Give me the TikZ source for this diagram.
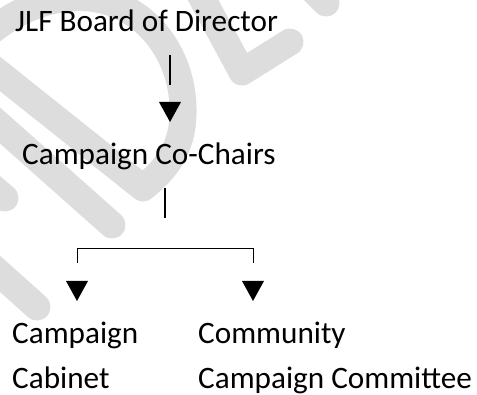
\documentclass[tikz,border=0pt]{standalone}
\usepackage{fontspec}
\setmainfont{Carlito}
\definecolor{wmgray}{RGB}{221,221,221}
\begin{document}
\begin{tikzpicture}[x=1pt,y=-1pt,
  lbl/.style={anchor=base west,inner sep=0pt,font=\fontsize{31.2}{37}\selectfont},
  wm/.style={draw=wmgray,line width=27pt,line cap=round,line join=round},
  bar/.style={line width=1.6pt},
  bracket/.style={line width=1pt},
  downtri/.pic={\fill (0,0) -- (-11,-20) -- (11,-20) -- cycle;}
]
\useasboundingbox (0,0) rectangle (477,395);

% faint background logo strokes
\begin{scope}
  \clip (0,0) rectangle (477,395);
  \draw[wm] (143,188) -- (-30,50)
    .. controls (10,10) and (50,-5) .. (90,-2)
    .. controls (150,5) and (185,60) .. (183,115)
    .. controls (182,150) and (165,170) .. cycle;
  \draw[wm] (-40,90) -- (112,225);
  \draw[wm] (-40,160) -- (5,198);
  \draw[wm] (-40,238) -- (37,307);
  \draw[wm] (195,-15) -- (242,72) -- (290,42);
  \draw[wm] (300,-23) -- (326,3);
\end{scope}

% labels
\node[lbl] (board)  at (15,32)  {JLF Board of Director};
\node[lbl] (chairs) at (22,165) {Campaign Co-Chairs};
\node[lbl] (cab1)   at (12,344) {Campaign};
\node[lbl] (cab2)   at (12,389) {Cabinet};
\node[lbl] (com1)   at (198,344) {Community};
\node[lbl] (com2)   at (198,389) {Campaign Committee};

% board -> co-chairs
\coordinate (b1) at (170,55);
\coordinate (b2) at (170,85);
\draw[bar] (b1) -- (b2);
\pic at (170,122) {downtri};

% co-chairs -> branches
\coordinate (c1) at (165,188);
\coordinate (c2) at (165,218);
\draw[bar] (c1) -- (c2);
\coordinate (lft) at (77,263);
\coordinate (rgt) at (253,263);
\draw[bracket] (lft) -- (77,249) -- (253,249) -- (rgt);
\pic at (77,301) {downtri};
\pic at (253,301) {downtri};
\end{tikzpicture}
\end{document}
